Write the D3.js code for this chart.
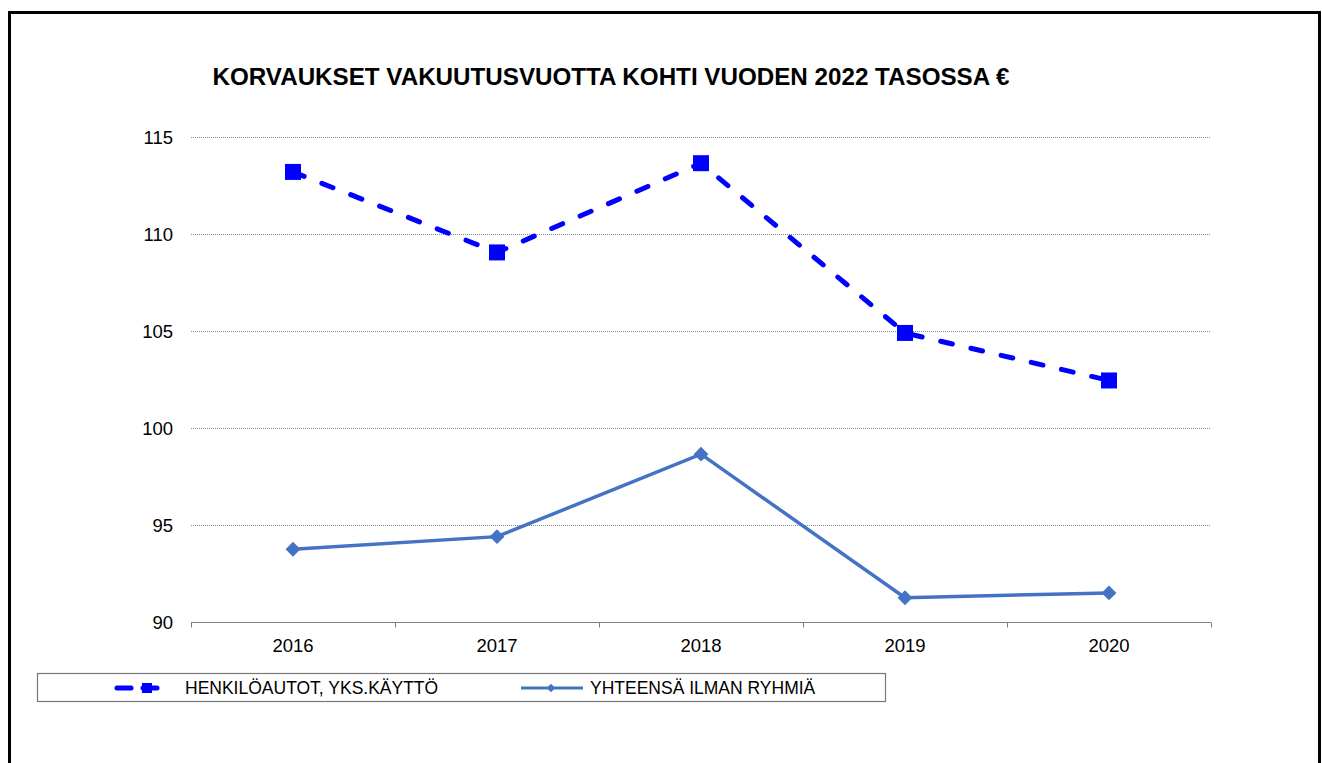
<!DOCTYPE html>
<html>
<head>
<meta charset="utf-8">
<script src="https://cdn.jsdelivr.net/npm/d3@7"></script>
<style>
	body { margin: 0; background: #fff; }
	svg text { font-family: "Liberation Sans", Arial, sans-serif; fill: #000; }
</style>
</head>
<body>
<svg id="chart" width="1322" height="763"></svg>
<script>
//===== DATA =====//
var years = ['2016', '2017', '2018', '2019', '2020'];
var henkiloautot = [113.2, 109.05, 113.65, 104.9, 102.45];
var yhteensa = [93.75, 94.4, 98.65, 91.25, 91.5];
var yTicks = [90, 95, 100, 105, 110, 115];
var seriesNames = ['HENKILÖAUTOT, YKS.KÄYTTÖ', 'YHTEENSÄ ILMAN RYHMIÄ'];

(function () {
	var svg = d3.select('#chart');
	var plotLeft = 191, plotRight = 1211, plotTop = 137, plotBottom = 622;

	// outer frame
	svg.append('rect')
		.attr('x', 9.5).attr('y', 12.5)
		.attr('width', 1310).attr('height', 800)
		.attr('fill', 'none')
		.attr('stroke', '#000')
		.attr('stroke-width', 3);

	svg.append('text')
		.attr('x', 611).attr('y', 85)
		.attr('text-anchor', 'middle')
		.style('font-size', '24.2px')
		.style('font-weight', 'bold')
		.text('KORVAUKSET VAKUUTUSVUOTTA KOHTI VUODEN 2022 TASOSSA €');

	var x = d3.scaleBand().domain(years).range([plotLeft, plotRight]);
	var y = d3.scaleLinear().domain([90, 115]).range([plotBottom, plotTop]);

	// gridlines
	svg.append('g')
		.selectAll('line')
		.data(yTicks.filter(function (d) { return d > 90; }))
		.enter().append('line')
		.attr('x1', plotLeft).attr('x2', plotRight)
		.attr('y1', function (d) { return Math.round(y(d)) + 0.5; })
		.attr('y2', function (d) { return Math.round(y(d)) + 0.5; })
		.attr('stroke', '#888')
		.attr('stroke-dasharray', '1,1');

	// y labels
	svg.append('g')
		.selectAll('text')
		.data(yTicks)
		.enter().append('text')
		.attr('x', 173)
		.attr('y', function (d) { return y(d) + 6.5; })
		.attr('text-anchor', 'end')
		.style('font-size', '18.5px')
		.text(function (d) { return d; });

	// x axis
	var xAxis = svg.append('g').attr('transform', 'translate(0,' + (plotBottom + 0.5) + ')');
	xAxis.append('line')
		.attr('x1', plotLeft).attr('x2', plotRight)
		.attr('stroke', '#808080').attr('stroke-width', 1.2);
	var bounds = years.map(function (d) { return x(d); }).concat([plotRight]);
	xAxis.selectAll('line.tick')
		.data(bounds)
		.enter().append('line')
		.classed('tick', true)
		.attr('x1', function (d) { return Math.round(d) + 0.5; })
		.attr('x2', function (d) { return Math.round(d) + 0.5; })
		.attr('y1', 0).attr('y2', 5)
		.attr('stroke', '#808080');
	xAxis.selectAll('text')
		.data(years)
		.enter().append('text')
		.attr('x', function (d) { return x(d) + x.bandwidth() / 2; })
		.attr('y', 29)
		.attr('text-anchor', 'middle')
		.style('font-size', '18.5px')
		.text(function (d) { return d; });

	var cx = function (d, i) { return x(years[i]) + x.bandwidth() / 2; };
	var line = d3.line().x(cx).y(function (d) { return y(d); });

	// series 1: dashed with squares
	svg.append('path')
		.datum(henkiloautot)
		.attr('d', line)
		.attr('fill', 'none')
		.attr('stroke', '#0000FF')
		.attr('stroke-width', 5)
		.attr('stroke-linecap', 'round')
		.attr('stroke-dasharray', '12,19');
	svg.append('g')
		.selectAll('rect')
		.data(henkiloautot)
		.enter().append('rect')
		.attr('x', function (d, i) { return cx(d, i) - 8; })
		.attr('y', function (d) { return y(d) - 8; })
		.attr('width', 16).attr('height', 16)
		.attr('fill', '#0000FF');

	// series 2: solid with diamonds
	var diamond = d3.symbol().type(d3.symbolDiamond2).size(140);
	svg.append('path')
		.datum(yhteensa)
		.attr('d', line)
		.attr('fill', 'none')
		.attr('stroke', '#4472C4')
		.attr('stroke-width', 3.5);
	svg.append('g')
		.selectAll('path')
		.data(yhteensa)
		.enter().append('path')
		.attr('d', diamond)
		.attr('transform', function (d, i) { return 'translate(' + cx(d, i) + ',' + y(d) + ')'; })
		.attr('fill', '#4472C4');

	// legend
	var legend = svg.append('g');
	legend.append('rect')
		.attr('x', 37.5).attr('y', 673.5)
		.attr('width', 848).attr('height', 28)
		.attr('fill', '#fff')
		.attr('stroke', '#777')
		.attr('stroke-width', 1.2);
	var ly = 688;
	legend.append('line')
		.attr('x1', 117).attr('x2', 165).attr('y1', ly).attr('y2', ly)
		.attr('stroke', '#0000FF').attr('stroke-width', 5)
		.attr('stroke-linecap', 'round')
		.attr('stroke-dasharray', '14,12');
	legend.append('rect')
		.attr('x', 142).attr('y', ly - 5).attr('width', 10).attr('height', 10)
		.attr('fill', '#0000FF');
	legend.append('text')
		.attr('x', 185).attr('y', ly + 6)
		.style('font-size', '17.5px')
		.text(seriesNames[0]);
	legend.append('line')
		.attr('x1', 521).attr('x2', 583).attr('y1', ly).attr('y2', ly)
		.attr('stroke', '#4472C4').attr('stroke-width', 3);
	legend.append('path')
		.attr('d', d3.symbol().type(d3.symbolDiamond2).size(45))
		.attr('transform', 'translate(551,' + ly + ')')
		.attr('fill', '#4472C4');
	legend.append('text')
		.attr('x', 590).attr('y', ly + 6)
		.style('font-size', '17.5px')
		.text(seriesNames[1]);
})();
</script>
</body>
</html>
